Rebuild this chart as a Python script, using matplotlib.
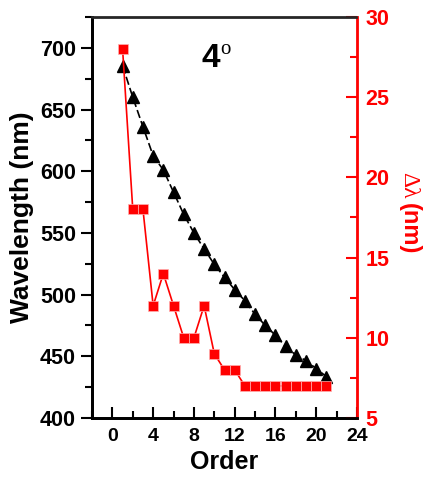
import numpy as np
import matplotlib.pyplot as plt
from matplotlib.ticker import MultipleLocator

plt.rcParams['font.family'] = ['Liberation Sans', 'DejaVu Sans']
plt.rcParams['font.weight'] = 'bold'

order = list(range(1, 22))
wavelength = [685.5, 660, 636, 612.5, 601, 583, 565, 550, 537, 524.5, 514,
              504, 495, 484, 475, 467, 458, 451, 446.5, 440, 433.5]
delta = [28, 18, 18, 12, 14, 12, 10, 10, 12, 9, 8, 8,
         7, 7, 7, 7, 7, 7, 7, 7, 7]

fig = plt.figure(figsize=(4.23, 4.84), dpi=100)
ax = fig.add_axes([0.2175, 0.1364, 0.6265, 0.8285])
ax2 = ax.twinx()

ax.plot(order, wavelength, color='black', linestyle=(0, (5, 2)), linewidth=1.2,
        marker='^', markersize=9, zorder=3)
ax2.plot(order, delta, color='red', linewidth=1.2, marker='s', markersize=7,
         markeredgecolor='#ffb0b0', markeredgewidth=0.5)

ax.set_xlim(-2, 24)
ax.set_ylim(400, 725)
ax2.set_ylim(5, 30)

ax.xaxis.set_major_locator(MultipleLocator(4))
ax.xaxis.set_minor_locator(MultipleLocator(2))
ax.yaxis.set_major_locator(MultipleLocator(50))
ax.yaxis.set_minor_locator(MultipleLocator(25))
ax2.yaxis.set_major_locator(MultipleLocator(5))
ax2.yaxis.set_minor_locator(MultipleLocator(2.5))

ax.tick_params(axis='x', which='both', direction='in', labelsize=14, width=1.5, pad=7)
ax.tick_params(axis='x', which='major', length=8)
ax.tick_params(axis='x', which='minor', length=5)
ax.tick_params(axis='y', which='both', direction='out', labelsize=15.5, width=1.5)
ax.tick_params(axis='y', which='major', length=8)
ax.tick_params(axis='y', which='minor', length=5)
ax2.tick_params(axis='y', which='both', direction='in', colors='red',
                labelsize=15.5, width=1.5, pad=6)
ax2.tick_params(axis='y', which='major', length=8)
ax2.tick_params(axis='y', which='minor', length=5)

for s in ['left', 'bottom']:
    ax.spines[s].set_linewidth(2)
ax2.spines['left'].set_linewidth(2)
ax2.spines['bottom'].set_linewidth(2)
ax2.spines['right'].set_color('red')
ax2.spines['right'].set_linewidth(2)
ax2.spines['top'].set_linewidth(2)
ax2.spines['top'].set_color('0.15')
ax2.spines['top'].set_linestyle((0, (3, 1)))
ax.spines['top'].set_visible(False)

ax.set_xlabel('Order', fontsize=18, fontweight='bold', labelpad=4)
ax.set_ylabel('Wavelength (nm)', fontsize=19, fontweight='bold', labelpad=4)

# right axis label: serif Greek part + bold sans unit
fig.text(0.967, 0.6446, 'Δλ', fontsize=17, family='Liberation Serif',
         fontweight='normal', color='red', rotation=270, ha='center', va='top')
fig.text(0.967, 0.5806, '(nm)', fontsize=17, fontweight='bold', color='red',
         rotation=270, ha='center', va='top')

ax.text(8.7, 691, '4', fontsize=24, fontweight='bold', ha='left', va='center')
ax.text(10.6, 699, 'o', fontsize=15, family='Liberation Serif',
        fontweight='normal', ha='left', va='center')

fig.savefig('out.png', dpi=100)
